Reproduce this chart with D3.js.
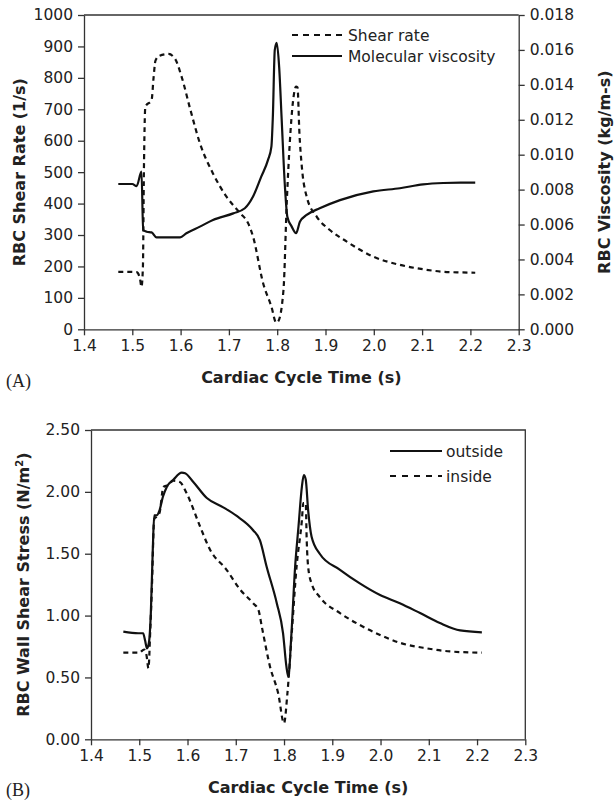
<!DOCTYPE html>
<html>
<head>
<meta charset="utf-8">
<script src="https://cdn.jsdelivr.net/npm/d3@7"></script>
<style>
  body { margin: 0; background: #fff; }
  svg { display: block; }
  .axis text { font-family: "DejaVu Sans", sans-serif; font-size: 15.5px; fill: #222; }
  .axis path, .axis line { stroke: #333; stroke-width: 1.3; }
  .title { font-family: "DejaVu Sans", sans-serif; font-size: 16px; font-weight: bold; fill: #222; }
  .legend { font-family: "DejaVu Sans", sans-serif; font-size: 15.5px; fill: #222; }
  .panel { font-family: "Liberation Serif", "Times New Roman", serif; font-size: 18px; fill: #222; }
</style>
</head>
<body>
<div id="chart"></div>
<script>
// panel A: shear rate (left axis)
const shearT = [1.471, 1.490, 1.509, 1.512, 1.516, 1.519, 1.522, 1.524, 1.527, 1.540, 1.544, 1.548, 1.556, 1.575, 1.588, 1.602, 1.620, 1.640, 1.667, 1.695, 1.723, 1.740, 1.750, 1.771, 1.788, 1.798, 1.802, 1.813, 1.820, 1.826, 1.833, 1.839, 1.842, 1.846, 1.851, 1.861, 1.882, 1.909, 1.944, 1.999, 2.054, 2.102, 2.144, 2.180, 2.210];
const shearV = [183, 183, 182, 178, 160, 135, 200, 500, 708, 730, 800, 855, 870, 876, 862, 804, 700, 592, 496, 422, 370, 337, 295, 146, 72, 21, 25, 125, 411, 592, 729, 772, 770, 624, 517, 422, 358, 316, 279, 231, 205, 191, 183, 181, 180];

// panel A: molecular viscosity (right axis)
const viscT = [1.471, 1.500, 1.509, 1.519, 1.5225, 1.530, 1.540, 1.550, 1.599, 1.612, 1.640, 1.667, 1.709, 1.733, 1.750, 1.767, 1.781, 1.788, 1.791, 1.795, 1.799, 1.804, 1.809, 1.816, 1.821, 1.830, 1.839, 1.847, 1.861, 1.888, 1.930, 1.999, 2.054, 2.102, 2.144, 2.180, 2.210];
const viscV = [0.00832, 0.00832, 0.0082, 0.00903, 0.00569, 0.00559, 0.00555, 0.00527, 0.00527, 0.0055, 0.00588, 0.00626, 0.00664, 0.00693, 0.0076, 0.00874, 0.0097, 0.01046, 0.01218, 0.0160, 0.0164, 0.01504, 0.01218, 0.00817, 0.00645, 0.00588, 0.0055, 0.00616, 0.00655, 0.00693, 0.0074, 0.0079, 0.00808, 0.0083, 0.00838, 0.0084, 0.0084];

// panel B: wall shear stress
const outT = [1.467, 1.498, 1.508, 1.512, 1.516, 1.520, 1.524, 1.528, 1.531, 1.536, 1.542, 1.549, 1.557, 1.571, 1.588, 1.595, 1.612, 1.640, 1.674, 1.702, 1.736, 1.750, 1.764, 1.785, 1.798, 1.805, 1.809, 1.815, 1.823, 1.830, 1.837, 1.841, 1.845, 1.850, 1.857, 1.874, 1.916, 1.957, 1.999, 2.040, 2.082, 2.123, 2.165, 2.210];
const outV = [0.870, 0.857, 0.857, 0.80, 0.735, 0.78, 1.02, 1.53, 1.81, 1.81, 1.85, 1.96, 2.04, 2.10, 2.155, 2.15, 2.08, 1.95, 1.875, 1.805, 1.69, 1.61, 1.395, 1.10, 0.857, 0.587, 0.506, 0.83, 1.395, 1.72, 2.04, 2.136, 2.10, 1.85, 1.64, 1.50, 1.37, 1.26, 1.166, 1.10, 1.02, 0.94, 0.88, 0.865];
const inT = [1.467, 1.500, 1.510, 1.515, 1.519, 1.523, 1.526, 1.531, 1.536, 1.542, 1.550, 1.560, 1.571, 1.584, 1.598, 1.626, 1.647, 1.681, 1.709, 1.736, 1.747, 1.754, 1.771, 1.788, 1.800, 1.807, 1.816, 1.826, 1.837, 1.840, 1.845, 1.847, 1.850, 1.857, 1.874, 1.916, 1.957, 1.999, 2.040, 2.096, 2.144, 2.210];
const inV = [0.70, 0.70, 0.725, 0.68, 0.574, 0.9, 1.2, 1.78, 1.80, 1.83, 2.04, 2.055, 2.09, 2.08, 1.99, 1.72, 1.53, 1.37, 1.21, 1.10, 1.045, 0.91, 0.587, 0.37, 0.13, 0.37, 0.857, 1.395, 1.77, 1.91, 1.91, 1.61, 1.395, 1.26, 1.15, 1.02, 0.924, 0.843, 0.78, 0.735, 0.71, 0.70];

const xTicks = [1.4, 1.5, 1.6, 1.7, 1.8, 1.9, 2.0, 2.1, 2.2, 2.3];
const shearTicks = d3.range(0, 1001, 100);
const viscTicks = d3.range(0, 0.0181, 0.002);
const stressTicks = [0, 0.5, 1.0, 1.5, 2.0, 2.5];

const svg = d3.select('#chart').append('svg')
    .attr('width', 614)
    .attr('height', 804);

const ink = '#111';
const dash = '5,4';

function zip(t, v) { return t.map((d, i) => ({ t: d, v: v[i] })); }

// ---------- panel A ----------
const xA = d3.scaleLinear().domain([1.4, 2.3]).range([84, 518.7]);
const yA = d3.scaleLinear().domain([0, 1000]).range([329.3, 15]);
const yV = d3.scaleLinear().domain([0, 0.018]).range([329.3, 15]);

svg.append('line')
    .attr('x1', xA(1.4)).attr('x2', xA(2.3))
    .attr('y1', yA(1000)).attr('y2', yA(1000))
    .attr('stroke', '#333').attr('stroke-width', 1.3);

svg.append('g').attr('class', 'axis')
    .attr('transform', `translate(0,${yA(0)})`)
    .call(d3.axisBottom(xA).tickValues(xTicks).tickSize(6).tickSizeOuter(0).tickPadding(5).tickFormat(d3.format('.1f')));

svg.append('g').attr('class', 'axis')
    .attr('transform', `translate(${xA(1.4)},0)`)
    .call(d3.axisLeft(yA).tickValues(shearTicks).tickSize(6).tickSizeOuter(0).tickPadding(5).tickFormat(d3.format('d')));

svg.append('g').attr('class', 'axis')
    .attr('transform', `translate(${xA(2.3)},0)`)
    .call(d3.axisRight(yV).tickValues(viscTicks).tickSize(6).tickSizeOuter(0).tickPadding(5).tickFormat(d3.format('.3f')));

const lineShear = d3.line().curve(d3.curveMonotoneX).x(d => xA(d.t)).y(d => yA(d.v));
const lineVisc = d3.line().curve(d3.curveMonotoneX).x(d => xA(d.t)).y(d => yV(d.v));

svg.append('path').datum(zip(shearT, shearV))
    .attr('d', lineShear).attr('fill', 'none')
    .attr('stroke', ink).attr('stroke-width', 2.2).attr('stroke-dasharray', dash);

svg.append('path').datum(zip(viscT, viscV))
    .attr('d', lineVisc).attr('fill', 'none')
    .attr('stroke', ink).attr('stroke-width', 2.2).attr('stroke-linejoin', 'round');

// legend A
svg.append('line').attr('x1', 292).attr('x2', 342).attr('y1', 35).attr('y2', 35)
    .attr('stroke', ink).attr('stroke-width', 2.2).attr('stroke-dasharray', '6,5');
svg.append('text').attr('class', 'legend').attr('x', 348).attr('y', 41).text('Shear rate');
svg.append('line').attr('x1', 292).attr('x2', 342).attr('y1', 56).attr('y2', 56)
    .attr('stroke', ink).attr('stroke-width', 2.2);
svg.append('text').attr('class', 'legend').attr('x', 348).attr('y', 62).text('Molecular viscosity');

svg.append('text').attr('class', 'title')
    .attr('transform', `translate(25,${(yA(0) + yA(1000)) / 2}) rotate(-90)`)
    .attr('text-anchor', 'middle').text('RBC Shear Rate (1/s)');
svg.append('text').attr('class', 'title')
    .attr('transform', `translate(610,${(yA(0) + yA(1000)) / 2}) rotate(-90)`)
    .attr('text-anchor', 'middle').text('RBC Viscosity (kg/m-s)');
svg.append('text').attr('class', 'title')
    .attr('x', (xA(1.4) + xA(2.3)) / 2).attr('y', 383)
    .attr('text-anchor', 'middle').text('Cardiac Cycle Time (s)');
svg.append('text').attr('class', 'panel').attr('x', 6).attr('y', 387).text('(A)');

// ---------- panel B ----------
const xB = d3.scaleLinear().domain([1.4, 2.3]).range([91, 525.3]);
const yB = d3.scaleLinear().domain([0, 2.5]).range([739.3, 430]);

svg.append('path')
    .attr('d', `M${xB(1.4)},${yB(2.5)}H${xB(2.3)}V${yB(0)}`)
    .attr('fill', 'none').attr('stroke', '#333').attr('stroke-width', 1.3);

svg.append('g').attr('class', 'axis')
    .attr('transform', `translate(0,${yB(0)})`)
    .call(d3.axisBottom(xB).tickValues(xTicks).tickSize(6).tickSizeOuter(0).tickPadding(5).tickFormat(d3.format('.1f')));

svg.append('g').attr('class', 'axis')
    .attr('transform', `translate(${xB(1.4)},0)`)
    .call(d3.axisLeft(yB).tickValues(stressTicks).tickSize(6).tickSizeOuter(0).tickPadding(5).tickFormat(d3.format('.2f')));

const lineB = d3.line().curve(d3.curveMonotoneX).x(d => xB(d.t)).y(d => yB(d.v));

svg.append('path').datum(zip(outT, outV))
    .attr('d', lineB).attr('fill', 'none')
    .attr('stroke', ink).attr('stroke-width', 2.2).attr('stroke-linejoin', 'round');

svg.append('path').datum(zip(inT, inV))
    .attr('d', lineB).attr('fill', 'none')
    .attr('stroke', ink).attr('stroke-width', 2.2).attr('stroke-dasharray', dash);

// legend B
svg.append('line').attr('x1', 390).attr('x2', 442).attr('y1', 451).attr('y2', 451)
    .attr('stroke', ink).attr('stroke-width', 2.2);
svg.append('text').attr('class', 'legend').attr('x', 446).attr('y', 457).text('outside');
svg.append('line').attr('x1', 390).attr('x2', 442).attr('y1', 476).attr('y2', 476)
    .attr('stroke', ink).attr('stroke-width', 2.2).attr('stroke-dasharray', '6,6');
svg.append('text').attr('class', 'legend').attr('x', 446).attr('y', 482).text('inside');

const yTitleB = svg.append('text').attr('class', 'title')
    .attr('transform', `translate(29,${(yB(0) + yB(2.5)) / 2}) rotate(-90)`)
    .attr('text-anchor', 'middle');
yTitleB.append('tspan').text('RBC Wall Shear Stress (N/m');
yTitleB.append('tspan').attr('dy', -6).attr('font-size', '10px').text('2');
yTitleB.append('tspan').attr('dy', 6).text(')');

svg.append('text').attr('class', 'title')
    .attr('x', (xB(1.4) + xB(2.3)) / 2).attr('y', 793)
    .attr('text-anchor', 'middle').text('Cardiac Cycle Time (s)');
svg.append('text').attr('class', 'panel').attr('x', 6).attr('y', 796).text('(B)');
</script>
</body>
</html>
